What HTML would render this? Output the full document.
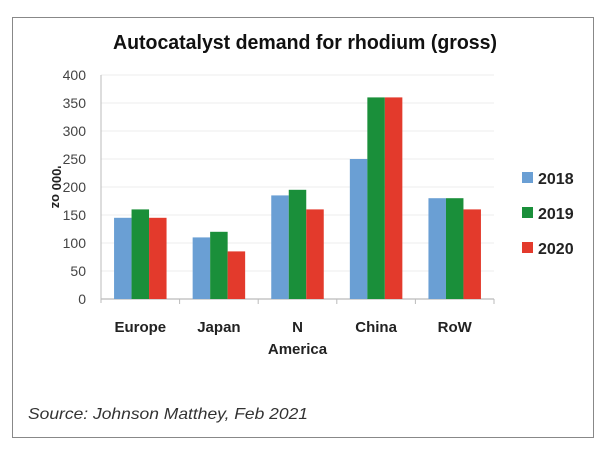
<!DOCTYPE html>
<html><head><meta charset="utf-8"><style>
body{margin:0;background:#fff;width:614px;height:454px;overflow:hidden;font-family:"Liberation Sans",sans-serif}
#frame{position:absolute;left:12px;top:17px;width:582px;height:421px;border:1px solid #888;box-sizing:border-box}
</style></head><body>
<div id="frame"></div>
<svg width="614" height="454" style="position:absolute;left:0;top:0">
<text x="305" y="49" text-anchor="middle" font-size="20" font-weight="bold" fill="#111" textLength="384" lengthAdjust="spacingAndGlyphs">Autocatalyst demand for rhodium (gross)</text>
<g id="grid"></g><g id="bars"></g><g id="axes"></g>
<text x="28" y="419" font-size="16" font-style="italic" fill="#333" textLength="280" lengthAdjust="spacingAndGlyphs">Source: Johnson Matthey, Feb 2021</text>
<text transform="translate(52,187) rotate(90)" text-anchor="middle" font-size="13" font-weight="bold" fill="#222">'000 oz</text>
</svg>
<script>
const categories=["Europe","Japan","N America","China","RoW"];
const years=["2018","2019","2020"];
const s2018=[145,110,185,250,180];
const s2019=[160,120,195,360,180];
const s2020=[145,85,160,360,160];
const yTicks=[0,50,100,150,200,250,300,350,400];
const colors=["#6a9fd4","#1a8f3a","#e33a2c"];
const series=[s2018,s2019,s2020];
const NS="http://www.w3.org/2000/svg";
const x0=101,x1=494,yb=299,yt=75,ymax=400;
const cw=(x1-x0)/categories.length;
const y=v=>yb-(v/ymax)*(yb-yt);
function mk(tag,attrs,parent){const e=document.createElementNS(NS,tag);for(const k in attrs)e.setAttribute(k,attrs[k]);parent.appendChild(e);return e;}
const grid=document.getElementById('grid'),bars=document.getElementById('bars'),axes=document.getElementById('axes'),svg=document.querySelector('svg');
yTicks.forEach(t=>{
  const l=mk('line',{x1:x0,x2:x1,y1:y(t),y2:y(t),stroke:t===0?'#aaa':'#eee','stroke-width':1},grid);
  
  
  const tx=mk('text',{x:86,y:y(t)+5,'text-anchor':'end','font-size':14,fill:'#444'},axes);
  tx.textContent=t;
  
  
});
const ax=mk('line',{x1:x0,x2:x0,y1:yt,y2:yb+4,stroke:'#bbb'},axes);


const bw=17.5;
categories.forEach((c,i)=>{
  const cx=x0+i*cw;
  const tk=mk('line',{x1:cx+cw,x2:cx+cw,y1:yb,y2:yb+5,stroke:'#bbb'},axes);
  
  
  series.forEach((s,j)=>{
    const r=mk('rect',{x:cx+cw/2-bw*1.5+j*bw,y:y(s[i]),width:bw,height:yb-y(s[i]),fill:colors[j]},bars);
    
    
  });
  const parts=c==="N America"?["N","America"]:[c];
  parts.forEach((p,k)=>{
    const t=mk('text',{x:cx+cw/2,y:332+k*22,'text-anchor':'middle','font-size':15,'font-weight':'bold',fill:'#222'},axes);
    t.textContent=p;
    
    
  });
});
years.forEach((yr,j)=>{
  const cy=178+j*35;
  const r=mk('rect',{x:522,y:cy-6,width:11,height:11,fill:colors[j]},svg);
  
  
  const t=mk('text',{x:538,y:cy+6,'font-size':16,'font-weight':'bold',fill:'#222'},svg);
  t.textContent=yr;
  
  
});
</script>
</body></html>
